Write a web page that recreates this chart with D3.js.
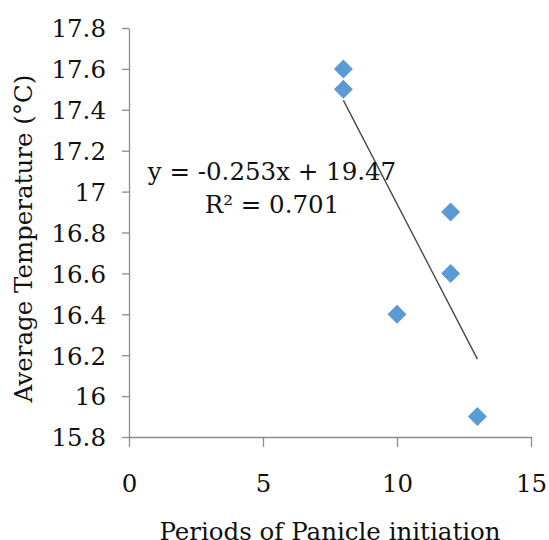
<!DOCTYPE html>
<html>
<head>
<meta charset="utf-8">
<script src="https://cdn.jsdelivr.net/npm/d3@7"></script>
<style>
  body { margin: 0; background: #fff; }
  text { font-family: "DejaVu Serif", serif; }
</style>
</head>
<body>
<script>
// Data
const periods = [8, 8, 12, 12, 10, 13];
const temps = [17.6, 17.5, 16.9, 16.6, 16.4, 15.9];
const xTicks = [0, 5, 10, 15];
const yTicks = [15.8, 16, 16.2, 16.4, 16.6, 16.8, 17, 17.2, 17.4, 17.6, 17.8];
// Linear trend (as printed on the chart)
const slope = -0.253;
const intercept = 19.47;
const trendRange = [8, 13];

const width = 549;
const height = 540;
const fontSize = 24.5;

const svg = d3.select("body")
    .append("svg")
    .attr("width", width)
    .attr("height", height);

// Scales
const x = d3.scaleLinear().domain([0, 15]).range([129, 531]);
const y = d3.scaleLinear().domain([15.8, 17.8]).range([437, 28]);

// Y axis
const yAxis = svg.append("g")
    .attr("transform", `translate(${x(0)},0)`)
    .call(d3.axisLeft(y).tickValues(yTicks).tickSize(7).tickSizeOuter(0).tickPadding(16)
        .tickFormat(d => String(+d.toFixed(1))));

// X axis
const xAxis = svg.append("g")
    .attr("transform", `translate(0,${y(15.8)})`)
    .call(d3.axisBottom(x).tickValues(xTicks).tickSize(10).tickSizeOuter(0).tickPadding(28));

[xAxis, yAxis].forEach(g => {
  g.select(".domain").attr("stroke", "#8c8c8c").attr("stroke-width", 1.3);
  g.selectAll(".tick line").attr("stroke", "#8c8c8c").attr("stroke-width", 1.3);
  g.selectAll(".tick text")
      .attr("fill", "#111")
      .style("font-family", "'DejaVu Serif', serif")
      .style("font-size", fontSize + "px");
});
yAxis.selectAll(".tick text").attr("dy", "0.36em");

// Trend line
svg.append("line")
    .attr("x1", x(trendRange[0]))
    .attr("y1", y(slope * trendRange[0] + intercept))
    .attr("x2", x(trendRange[1]))
    .attr("y2", y(slope * trendRange[1] + intercept))
    .attr("stroke", "#404040")
    .attr("stroke-width", 1.3);

// Points (diamonds)
const diamond = d3.symbol(d3.symbolSquare, 180);
svg.append("g")
    .selectAll("path")
    .data(periods.map((p, i) => [p, temps[i]]))
    .join("path")
    .attr("d", diamond)
    .attr("transform", d => `translate(${x(d[0])},${y(d[1])}) rotate(45)`)
    .attr("fill", "#5b9bd5");

// Equation label
const eq = svg.append("g")
    .attr("font-size", fontSize)
    .attr("fill", "#111")
    .attr("text-anchor", "middle");
eq.append("text").attr("x", 272).attr("y", 180).text("y = -0.253x + 19.47");
eq.append("text").attr("x", 272).attr("y", 213).text("R² = 0.701");

// Axis titles
svg.append("text")
    .attr("x", (x(0) + x(15)) / 2)
    .attr("y", 540)
    .attr("text-anchor", "middle")
    .attr("font-size", fontSize)
    .attr("fill", "#111")
    .text("Periods of Panicle initiation");

svg.append("text")
    .attr("transform", `translate(32,${(y(15.8) + y(17.8)) / 2 + 6}) rotate(-90)`)
    .attr("text-anchor", "middle")
    .attr("font-size", fontSize)
    .attr("fill", "#111")
    .text("Average Temperature (°C)");
</script>
</body>
</html>
